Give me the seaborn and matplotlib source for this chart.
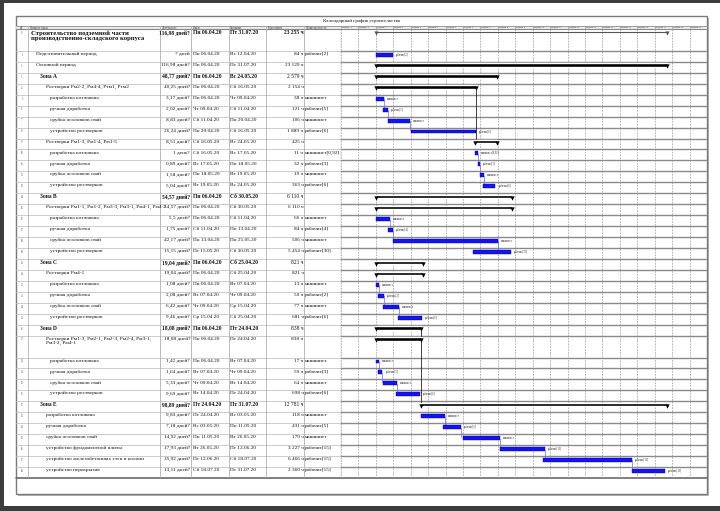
import matplotlib
matplotlib.use("Agg")
import matplotlib.pyplot as plt
import matplotlib.dates as mdates
from matplotlib.patches import Rectangle
import seaborn as sns
import pandas as pd
import numpy as np
import datetime as dt

# ---------------- data ----------------
task_names = [
    "Строительство подземной части\nпроизводственно-складского корпуса",
    "Подготовительный период",
    "Основной период",
    "Зона А",
    "Ростверки Рм2-2, Рм4-4, Ртм1, Ртм2",
    "разработка котлована",
    "ручная доработка",
    "срубка оголовков свай",
    "устройство ростверков",
    "Ростверки Рм1-3, Рм1-4, Рм1-5",
    "разработка котлована",
    "ручная доработка",
    "срубка оголовков свай",
    "устройство ростверков",
    "Зона В",
    "Ростверки Рм1-1, Рм1-2, Рм3-3, Рм3-1, Рм4-1, Рм4-2",
    "разработка котлована",
    "ручная доработка",
    "срубка оголовков свай",
    "устройство ростверков",
    "Зона С",
    "Ростверки Рм4-1",
    "разработка котлована",
    "ручная доработка",
    "срубка оголовков свай",
    "устройство ростверков",
    "Зона D",
    "Ростверки Рм1-3, Рм2-1, Рм2-3, Рм2-4, Рм3-1,\nРм3-2, Рм4-1",
    "разработка котлована",
    "ручная доработка",
    "срубка оголовков свай",
    "устройство ростверков",
    "Зона E",
    "разработка котлована",
    "ручная доработка",
    "срубка оголовков свай",
    "устройство фундаментной плиты",
    "устройство железобетонных стен и колонн",
    "устройство перекрытия",
]
outline_levels = [0, 1, 1, 2, 3, 4, 4, 4, 4, 3, 4, 4, 4, 4, 2, 3, 4, 4, 4, 4,
                  2, 3, 4, 4, 4, 4, 2, 3, 4, 4, 4, 4, 2, 3, 3, 3, 3, 3, 3]
is_summary = [1, 0, 1, 1, 1, 0, 0, 0, 0, 1, 0, 0, 0, 0, 1, 1, 0, 0, 0, 0,
              1, 1, 0, 0, 0, 0, 1, 1, 0, 0, 0, 0, 1, 0, 0, 0, 0, 0, 0]
is_bold = [1, 0, 0, 1, 0, 0, 0, 0, 0, 0, 0, 0, 0, 0, 1, 0, 0, 0, 0, 0,
           1, 0, 0, 0, 0, 0, 1, 0, 0, 0, 0, 0, 1, 0, 0, 0, 0, 0, 0]
durations = [
    "116,98 дней?", "7 дней", "116,98 дней?", "48,77 дней?", "40,25 дней?",
    "3,17 дней?", "2,02 дней?", "8,83 дней?", "26,24 дней?", "8,51 дней?",
    "1 день?", "0,89 дней?", "1,58 дней?", "5,04 дней?", "54,57 дней?",
    "54,57 дней?", "5,5 дней?", "1,75 дней?", "42,17 дней?", "15,15 дней?",
    "19,04 дней?", "19,04 дней?", "1,08 дней?", "2,08 дней?", "6,42 дней?",
    "9,46 дней?", "18,08 дней?", "18,08 дней?", "1,42 дней?", "1,64 дней?",
    "5,33 дней?", "9,69 дней?", "98,89 дней?", "9,83 дней?", "7,18 дней?",
    "14,92 дней?", "17,93 дней?", "35,92 дней?", "13,11 дней?",
]
starts = [
    "Пн 06.04.20", "Пн 06.04.20", "Пн 06.04.20", "Пн 06.04.20", "Пн 06.04.20",
    "Пн 06.04.20", "Чт 09.04.20", "Сб 11.04.20", "Пн 20.04.20", "Сб 16.05.20",
    "Сб 16.05.20", "Вс 17.05.20", "Пн 18.05.20", "Вт 19.05.20", "Пн 06.04.20",
    "Пн 06.04.20", "Пн 06.04.20", "Сб 11.04.20", "Пн 13.04.20", "Пт 15.05.20",
    "Пн 06.04.20", "Пн 06.04.20", "Пн 06.04.20", "Вт 07.04.20", "Чт 09.04.20",
    "Ср 15.04.20", "Пн 06.04.20", "Пн 06.04.20", "Пн 06.04.20", "Вт 07.04.20",
    "Чт 09.04.20", "Вт 14.04.20", "Пт 24.04.20", "Пт 24.04.20", "Вс 03.05.20",
    "Пн 11.05.20", "Вт 26.05.20", "Пт 12.06.20", "Сб 18.07.20",
]
finishes = [
    "Пт 31.07.20", "Вс 12.04.20", "Пт 31.07.20", "Вс 24.05.20", "Сб 16.05.20",
    "Чт 09.04.20", "Сб 11.04.20", "Пн 20.04.20", "Сб 16.05.20", "Вс 24.05.20",
    "Вс 17.05.20", "Пн 18.05.20", "Вт 19.05.20", "Вс 24.05.20", "Сб 30.05.20",
    "Сб 30.05.20", "Сб 11.04.20", "Пн 13.04.20", "Пн 25.05.20", "Сб 30.05.20",
    "Сб 25.04.20", "Сб 25.04.20", "Вт 07.04.20", "Чт 09.04.20", "Ср 15.04.20",
    "Сб 25.04.20", "Пт 24.04.20", "Пт 24.04.20", "Вт 07.04.20", "Чт 09.04.20",
    "Вт 14.04.20", "Пт 24.04.20", "Пт 31.07.20", "Вс 03.05.20", "Пн 11.05.20",
    "Вт 26.05.20", "Пт 12.06.20", "Сб 18.07.20", "Пт 31.07.20",
]
work = [
    "23 255 ч", "84 ч", "23 129 ч", "2 579 ч", "2 154 ч", "38 ч", "121 ч", "106 ч",
    "1 889 ч", "425 ч", "11 ч", "32 ч", "19 ч", "363 ч", "6 110 ч", "6 110 ч",
    "66 ч", "84 ч", "506 ч", "5 454 ч", "821 ч", "821 ч", "13 ч", "50 ч", "77 ч",
    "681 ч", "838 ч", "838 ч", "17 ч", "59 ч", "64 ч", "698 ч", "12 781 ч",
    "118 ч", "431 ч", "179 ч", "3 227 ч", "6 466 ч", "2 360 ч",
]
resources = [
    "", "рабочие[2]", "", "", "", "машинист", "рабочие[5]", "машинист",
    "рабочие[6]", "", "машинист[0,92]", "рабочие[3]", "машинист", "рабочие[6]",
    "", "", "машинист", "рабочие[4]", "машинист", "рабочие[30]", "", "",
    "машинист", "рабочие[2]", "машинист", "рабочие[6]", "", "", "машинист",
    "рабочие[3]", "машинист", "рабочие[6]", "", "машинист", "рабочие[5]",
    "машинист", "рабочие[15]", "рабочие[15]", "рабочие[15]",
]
blue_links = [(5, 6), (6, 7), (7, 8), (10, 11), (11, 12), (12, 13), (16, 17),
              (17, 18), (18, 19), (22, 23), (23, 24), (24, 25), (28, 29),
              (29, 30), (30, 31), (33, 34), (34, 35), (35, 36), (36, 37), (37, 38)]
black_links = [(4, 9), (26, 32)]
column_headers = ["Название задачи", "Длительность", "Начало", "Окончание",
                  "Трудозатраты", "Названия ресурсов"]
chart_title = "Календарный график строительства"
week_labels = ["Неделя -2", "Неделя -1"] + [f"Неделя {k}" for k in range(1, 20)]
scale_start = "23.03.20"

# ---------------- derived ----------------
def parse_days(s):
    return float(s.split()[0].replace(",", "."))

def parse_date(s):
    return dt.datetime.strptime(s.split()[-1], "%d.%m.%y")

df = pd.DataFrame({
    "name": task_names, "level": outline_levels, "summary": is_summary,
    "bold": is_bold, "dur_txt": durations, "start_txt": starts,
    "finish_txt": finishes, "work": work, "res": resources,
})
df["days"] = df["dur_txt"].map(parse_days)
df["start"] = mdates.date2num(df["start_txt"].map(parse_date).tolist())
df["end"] = df["start"] + df["days"]
df["h"] = [2 if "\n" in t else 1 for t in task_names]
df["top"] = df["h"].cumsum() - df["h"]
total_h = df["h"].sum()

# ---------------- figure ----------------
sns.set_theme(style="white")
plt.rcParams["font.family"] = ["Liberation Serif", "DejaVu Serif"]
W, H = 720, 511
fig = plt.figure(figsize=(7.2, 5.11), dpi=100)
fig.patch.set_facecolor("white")

pax = fig.add_axes([0, 0, 1, 1], zorder=0)
pax.set_xlim(0, W)
pax.set_ylim(H, 0)
pax.axis("off")
pax.add_patch(Rectangle((0, 0), 3.5, H, color="#3c3c3c", lw=0))
pax.add_patch(Rectangle((0, 0), W, 3, color="#3c3c3c", lw=0))
pax.add_patch(Rectangle((0, 506), W, 5, color="#3c3c3c", lw=0))
BX0, BY0, BX1, BY1 = 16, 16, 707, 494
pax.add_patch(Rectangle((BX0 + 2, BY0 + 2), BX1 - BX0, BY1 - BY0, color="#b8b8b8", lw=0))
pax.add_patch(Rectangle((BX0, BY0), BX1 - BX0, BY1 - BY0, facecolor="white",
                        edgecolor="#7a7a7a", lw=1.0))
pax.add_patch(Rectangle((BX0, 26), BX1 - BX0, 3, facecolor="#ececec",
                        edgecolor="none"))
pax.plot([BX0, BX1], [26, 26], color="#9a9a9a", lw=0.7)
pax.plot([BX0, BX1], [29, 29], color="#8a8a8a", lw=0.8)
pax.plot([BX0, BX1], [478, 478], color="#6a6a6a", lw=1.2)

ROW_Y0, ROW_Y1 = 29, 478
TX0, TX1 = 16, 341
GX1 = 707
ax_h = (ROW_Y1 - ROW_Y0) / H
ax_b = 1 - ROW_Y1 / H

tab = fig.add_axes([TX0 / W, ax_b, (TX1 - TX0) / W, ax_h], zorder=2)
gan = fig.add_axes([TX1 / W, ax_b, (GX1 - TX1) / W, ax_h], zorder=2)
for a in (tab, gan):
    a.set_ylim(total_h, 0)
    a.patch.set_alpha(0)
    for s in a.spines.values():
        s.set_visible(False)
    a.set_yticks([])
    a.tick_params(length=0, labelbottom=False)
tab.set_xlim(TX0, TX1)
tab.set_xticks([])

# ---- table part ----
col_lines = [27.5, 160, 191, 228.5, 266, 304]
row_bounds = np.append(df["top"].values, total_h)
for yb in row_bounds[1:-1]:
    tab.axhline(yb, color="#c4c4c4", lw=0.6)
for xc in col_lines:
    tab.axvline(xc, color="#b0b0b0", lw=0.6)
    tab.plot([xc, xc], [-0.27, 0], color="#b0b0b0", lw=0.5, clip_on=False)
tab.axvline(TX1 - 0.3, color="#808080", lw=0.9)

hdr_x = [30, 162, 193, 230, 268, 306]
tab.text(21.5, -0.13, "Ид.", fontsize=1.8, ha="center", va="center", color="#333")
for hx, ht in zip(hdr_x, column_headers):
    tab.text(hx, -0.13, ht, fontsize=1.8, ha="left", va="center", color="#333")
tab.text(362, -0.75, chart_title, fontsize=3.6, ha="center", va="center",
         color="#111", clip_on=False)

indent_x = {0: 31, 1: 36, 2: 40.5, 3: 45.5, 4: 50}
for i, r in df.iterrows():
    y = r["top"] + 0.1
    bold = "bold" if r["bold"] else "normal"
    fs = 4.8 if i == 0 else (4.0 if r["bold"] else 3.9)
    fs_num = 4.0 if r["bold"] else 3.8
    tab.text(22, r["top"] + 0.35, str(i), fontsize=2.0, ha="center", va="center",
             color="#555")
    tab.text(indent_x[r["level"]], y, r["name"], fontsize=fs, fontweight=bold,
             ha="left", va="top", linespacing=1.15, color="#111")
    tab.text(190, y, r["dur_txt"], fontsize=fs_num, fontweight=bold,
             ha="right", va="top", color="#111")
    tab.text(193, y, r["start_txt"], fontsize=fs_num, fontweight=bold,
             ha="left", va="top", color="#111")
    tab.text(230.5, y, r["finish_txt"], fontsize=fs_num, fontweight=bold,
             ha="left", va="top", color="#111")
    tab.text(303.5, y, r["work"], fontsize=fs_num, fontweight=bold if i == 0 else "normal",
             ha="right", va="top", color="#111")
    tab.text(305, y, r["res"], fontsize=3.8, ha="left", va="top", color="#111")

# ---- gantt part ----
g0 = mdates.date2num(parse_date(scale_start))
week_edges = g0 + 7 * np.arange(len(week_labels) + 1)
gan.set_xlim(week_edges[0], week_edges[-1])
gan.set_xticks(week_edges)
gan.grid(axis="x", color="#9a9a9a", lw=0.5, ls=(0, (2.5, 1.5)))
gan.grid(axis="y", visible=False)
for yb in row_bounds[1:-1]:
    gan.axhline(yb, color="#8a8a8a", lw=1.0)
for k, lab in enumerate(week_labels):
    gan.text(week_edges[k] + 0.4, -0.13, lab, fontsize=1.7, ha="left",
             va="center", color="#333", clip_on=False)
    gan.plot([week_edges[k]] * 2, [-0.27, 0], color="#9a9a9a", lw=0.5, clip_on=False)

tasks = df[df["summary"] == 0]
gan.barh(tasks["top"] + 0.36, tasks["days"], left=tasks["start"], height=0.36,
         color="#1414ee", edgecolor="#0000b0", lw=0.3, zorder=4)
for i, r in tasks.iterrows():
    gan.text(r["end"] + 1.2, r["top"] + 0.36, r["res"], fontsize=1.9,
             ha="left", va="center", color="#222", zorder=5)

summ = df[(df["summary"] == 1) & (df.index > 0)]
gan.barh(summ["top"] + 0.3, summ["days"], left=summ["start"], height=0.3,
         color="black", zorder=4)
ends = pd.DataFrame({
    "x": np.concatenate([summ["start"].values, summ["end"].values]),
    "y": np.concatenate([summ["top"].values + 0.42, summ["top"].values + 0.42]),
})
sns.scatterplot(data=ends, x="x", y="y", ax=gan, marker="v", s=10, color="black",
                linewidth=0, zorder=5, legend=False)

proj = df.loc[[0]]
gan.hlines(proj["top"] + 0.3, proj["start"], proj["end"], color="#555", lw=0.8, zorder=4)
pe = pd.DataFrame({"x": [proj["start"].iloc[0], proj["end"].iloc[0]],
                   "y": [proj["top"].iloc[0] + 0.35] * 2})
sns.scatterplot(data=pe, x="x", y="y", ax=gan, marker="v", s=9, color="#555",
                linewidth=0, zorder=5, legend=False)

for a_, b_ in blue_links:
    x = df.loc[a_, "end"]
    gan.plot([x, x], [df.loc[a_, "top"] + 0.4, df.loc[b_, "top"] + 0.22],
             color="#6a6aff", lw=0.5, zorder=3)
for a_, b_ in black_links:
    x = df.loc[a_, "end"]
    gan.plot([x, x], [df.loc[a_, "top"] + 0.38, df.loc[b_, "top"] + 0.22],
             color="#222", lw=0.6, zorder=3)

gan.set_xlabel("")
gan.set_ylabel("")
gan.set_xticklabels([])

fig.savefig("out.png", dpi=100, facecolor="white")
